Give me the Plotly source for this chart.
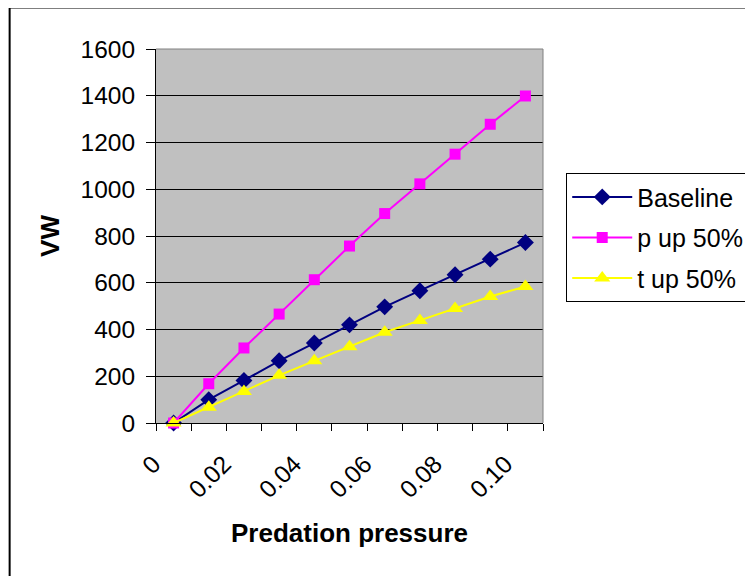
import plotly.graph_objects as go

pressure = [0.00, 0.01, 0.02, 0.03, 0.04, 0.05, 0.06, 0.07, 0.08, 0.09, 0.10]
baseline = [0, 100, 182, 266, 342, 420, 497, 566, 634, 701, 772]
p_up = [0, 168, 321, 466, 613, 757, 896, 1023, 1150, 1278, 1399]
t_up = [0, 67, 135, 204, 266, 326, 388, 439, 490, 541, 584]
x_tickvals = [0.00, 0.02, 0.04, 0.06, 0.08, 0.10]
x_ticktext = ["0", "0.02", "0.04", "0.06", "0.08", "0.10"]

FONT = "Liberation Sans, Arial, sans-serif"

fig = go.Figure()
fig.add_trace(go.Scatter(x=pressure, y=baseline, name="Baseline", mode="lines+markers",
                         line=dict(color="#000080", width=2),
                         marker=dict(symbol="diamond", size=13, color="#000080"),
                         cliponaxis=False, legendgroup="a"))
fig.add_trace(go.Scatter(x=pressure, y=p_up, name="p up 50%", mode="lines+markers",
                         line=dict(color="#FF00FF", width=2),
                         marker=dict(symbol="square", size=11, color="#FF00FF"),
                         cliponaxis=False, legendgroup="b"))
fig.add_trace(go.Scatter(x=pressure, y=t_up, name="t up 50%", mode="lines+markers",
                         line=dict(color="#FFFF00", width=2),
                         marker=dict(symbol="triangle-up", size=14, color="#FFFF00"),
                         cliponaxis=False, legendgroup="c"))

fig.update_layout(
    width=753, height=576,
    margin=dict(l=148, r=215, t=41, b=161),
    paper_bgcolor="white",
    plot_bgcolor="#C0C0C0",
    font=dict(family=FONT, color="black", size=24),
    showlegend=True,
    legend=dict(x=1.06, y=0.668, xanchor="left", yanchor="top",
                bgcolor="white", bordercolor="black", borderwidth=1,
                font=dict(size=25, family=FONT), tracegroupgap=5,
                traceorder="grouped", itemwidth=60),
    xaxis=dict(range=[-0.005, 0.105], tickmode="array", tickvals=x_tickvals,
               ticktext=x_ticktext, tickangle=-45, ticks="", showgrid=False,
               showline=True, linecolor="black", linewidth=1, zeroline=False,
               tickfont=dict(size=24.5), ticklabelstandoff=16, ticklabelshift=-20,
               minor=dict(tickmode="linear", tick0=-0.005, dtick=0.01,
                          ticks="outside", ticklen=7, tickcolor="black", showgrid=False),
               title=dict(text="<b>Predation pressure</b>", font=dict(size=26), standoff=21)),
    yaxis=dict(range=[0, 1600], dtick=200, showgrid=True, gridcolor="black", gridwidth=1,
               ticks="outside", ticklen=9, tickcolor="black", showline=True,
               linecolor="black", linewidth=1, zeroline=False, ticklabelstandoff=6,
               tickfont=dict(size=24.5),
               title=dict(text="<b>VW</b>", font=dict(size=26), standoff=13)),
)

# plot area border (top and right, gray)
fig.add_shape(type="line", xref="paper", yref="paper", x0=0, x1=1, y0=1, y1=1,
              line=dict(color="#808080", width=1))
fig.add_shape(type="line", xref="paper", yref="paper", x0=1, x1=1, y0=0, y1=1,
              line=dict(color="#808080", width=1))
# chart area border
fig.add_shape(type="rect", xref="paper", yref="paper", x0=-0.3782, x1=1.8, y0=-0.6, y1=1.111,
              line=dict(color="black", width=2), fillcolor="rgba(0,0,0,0)")

fig.write_html("out.html")
